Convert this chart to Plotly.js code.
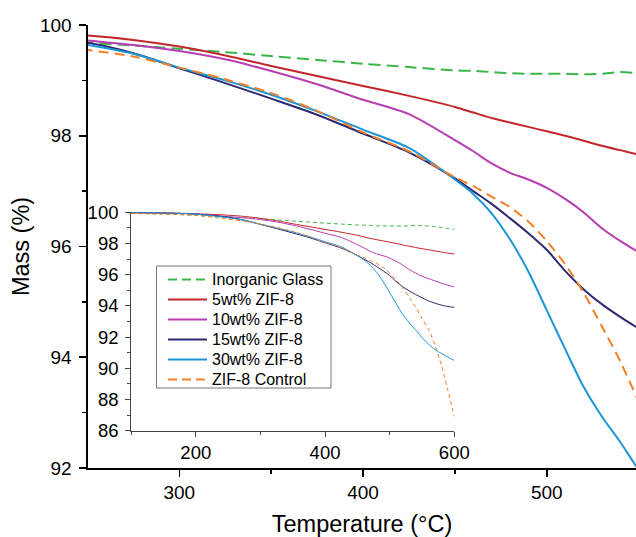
<!DOCTYPE html>
<html>
<head>
<meta charset="utf-8">
<script src="https://cdn.plot.ly/plotly-3.0.1.min.js"></script>
<style>html,body{margin:0;padding:0;background:#fff;}#chart{width:636px;height:537px;}</style>
</head>
<body>
<div id="chart"></div>
<script>
// Temperature grid (°C)
const temperature = [100, 150, 200, 250, 275, 300, 325, 350, 375, 400, 425, 450, 460, 470, 480, 490, 500, 510, 520, 530, 540, 550, 560, 570, 580, 590, 600];

// Mass (%) per series
const inorganicGlass = [99.92, 99.88, 99.80, 99.68, 99.63, 99.57, 99.51, 99.44, 99.37, 99.30, 99.24, 99.18, 99.17, 99.15, 99.13, 99.12, 99.12, 99.12, 99.11, 99.12, 99.15, 99.13, 99.12, 99.08, 99.02, 98.96, 98.90];
const zif5 = [99.98, 99.96, 99.90, 99.81, 99.73, 99.61, 99.45, 99.26, 99.08, 98.90, 98.72, 98.52, 98.42, 98.32, 98.24, 98.16, 98.08, 98.00, 97.91, 97.82, 97.74, 97.66, 97.60, 97.52, 97.45, 97.38, 97.32];
const zif10 = [99.98, 99.95, 99.88, 99.72, 99.64, 99.53, 99.38, 99.17, 98.93, 98.65, 98.39, 97.92, 97.72, 97.50, 97.33, 97.21, 97.06, 96.86, 96.62, 96.33, 96.10, 95.90, 95.75, 95.60, 95.45, 95.32, 95.22];
const zif15 = [99.97, 99.95, 99.88, 99.68, 99.49, 99.22, 98.95, 98.67, 98.38, 98.04, 97.70, 97.23, 97.00, 96.77, 96.51, 96.24, 95.94, 95.56, 95.23, 94.96, 94.73, 94.52, 94.32, 94.17, 94.05, 93.96, 93.90];
const zif30 = [99.97, 99.95, 99.88, 99.64, 99.48, 99.23, 99.00, 98.74, 98.44, 98.11, 97.78, 97.21, 96.95, 96.60, 96.13, 95.55, 94.85, 94.15, 93.47, 92.93, 92.47, 91.97, 91.55, 91.20, 90.95, 90.72, 90.50];
const zifControl = [99.92, 99.88, 99.80, 99.55, 99.43, 99.23, 99.02, 98.77, 98.45, 98.06, 97.72, 97.25, 97.09, 96.90, 96.71, 96.45, 96.10, 95.68, 95.17, 94.56, 93.93, 93.20, 92.50, 91.50, 90.20, 88.60, 86.90];

const seriesNames = ["Inorganic Glass", "5wt% ZIF-8", "10wt% ZIF-8", "15wt% ZIF-8", "30wt% ZIF-8", "ZIF-8 Control"];
const seriesValues = [inorganicGlass, zif5, zif10, zif15, zif30, zifControl];
const seriesColors = ["#3cb54a", "#c1272d", "#b93cb0", "#2e2a72", "#1c96d6", "#f57f28"];
const mainDash = ["12px,6px", "solid", "solid", "solid", "solid", "10px,6px"];
const insetDash = ["4px,3px", "solid", "solid", "solid", "solid", "4px,3px"];
const legendDash = ["9px,5px", "solid", "solid", "solid", "solid", "9px,5px"];

const FONT = "Liberation Sans, Arial, sans-serif";
const traces = [];
seriesNames.forEach((name, i) => {
  traces.push({
    x: temperature, y: seriesValues[i], name: name, type: "scatter", mode: "lines",
    xaxis: "x", yaxis: "y",
    line: {color: seriesColors[i], width: 2, dash: mainDash[i], shape: "spline", smoothing: 0.8},
    showlegend: false
  });
});
seriesNames.forEach((name, i) => {
  traces.push({
    x: temperature, y: seriesValues[i], name: name, type: "scatter", mode: "lines",
    xaxis: "x2", yaxis: "y2",
    line: {color: seriesColors[i], width: 1, dash: insetDash[i], shape: "spline", smoothing: 0.8},
    showlegend: false
  });
});

// Legend box drawn in paper coordinates (plot area: 88..636 px wide, 25..468 px tall)
const PL = 88, PW = 548, PB = 468, PH = 443;
const px = v => (v - PL) / PW;
const py = v => (PB - v) / PH;
const shapes = [{
  type: "rect", xref: "paper", yref: "paper",
  x0: px(156.5), x1: px(331), y0: py(266), y1: py(388),
  line: {color: "#777", width: 1}, fillcolor: "#fff", layer: "above"
}];
const annotations = [];
seriesNames.forEach((name, i) => {
  const rowY = 279.5 + 20 * i;
  shapes.push({
    type: "line", xref: "paper", yref: "paper",
    x0: px(168), x1: px(207), y0: py(rowY), y1: py(rowY),
    line: {color: seriesColors[i], width: 2, dash: legendDash[i]}, layer: "above"
  });
  annotations.push({
    xref: "paper", yref: "paper", x: px(209.5), y: py(rowY),
    xanchor: "left", yanchor: "middle", showarrow: false, text: name,
    font: {family: FONT, size: 16, color: "#000"}
  });
});

const mainAxis = {
  showline: true, linecolor: "#000", linewidth: 1.6, mirror: false,
  ticks: "outside", ticklen: 7, tickwidth: 1.6, tickcolor: "#000",
  showgrid: false, zeroline: false,
  tickfont: {family: FONT, size: 19, color: "#000"}
};
const insetAxis = {
  showline: true, linecolor: "#444", linewidth: 1, mirror: false,
  ticks: "outside", ticklen: 5, tickwidth: 1, tickcolor: "#444",
  showgrid: false, zeroline: false,
  tickfont: {family: FONT, size: 18.5, color: "#000"}
};

const layout = {
  width: 636, height: 537,
  margin: {l: 88, r: 0, t: 25, b: 69},
  paper_bgcolor: "#fff", plot_bgcolor: "rgba(0,0,0,0)",
  font: {family: FONT, color: "#000"},
  showlegend: false,
  shapes: shapes,
  annotations: annotations,
  xaxis: Object.assign({}, mainAxis, {
    domain: [0, 1], anchor: "y", range: [250.3, 548.6],
    tick0: 0, dtick: 100,
    minor: {dtick: 50, ticks: "outside", ticklen: 4, tickwidth: 1.6, tickcolor: "#000", showgrid: false},
    title: {text: "Temperature (°C)", font: {family: FONT, size: 23.5, color: "#000"}, standoff: 16}
  }),
  yaxis: Object.assign({}, mainAxis, {
    domain: [0, 1], anchor: "x", range: [92, 100],
    tick0: 0, dtick: 2, ticklabelstandoff: 4,
    minor: {dtick: 1, ticks: "outside", ticklen: 4, tickwidth: 1.6, tickcolor: "#000", showgrid: false},
    title: {text: "Mass (%)", font: {family: FONT, size: 23.5, color: "#000"}, standoff: 3}
  }),
  xaxis2: Object.assign({}, insetAxis, {
    domain: [0.0788, 0.6684], anchor: "y2", range: [100, 600],
    tick0: 0, dtick: 200,
    minor: {dtick: 100, ticks: "outside", ticklen: 3, tickwidth: 1, tickcolor: "#444", showgrid: false}
  }),
  yaxis2: Object.assign({}, insetAxis, {
    domain: [0.0842, 0.5774], anchor: "x2", range: [86, 100],
    tick0: 0, dtick: 2, ticklabelstandoff: 3,
    minor: {dtick: 1, ticks: "outside", ticklen: 3, tickwidth: 1, tickcolor: "#444", showgrid: false}
  })
};

Plotly.newPlot("chart", traces, layout, {staticPlot: true, displayModeBar: false});
</script>
</body>
</html>
